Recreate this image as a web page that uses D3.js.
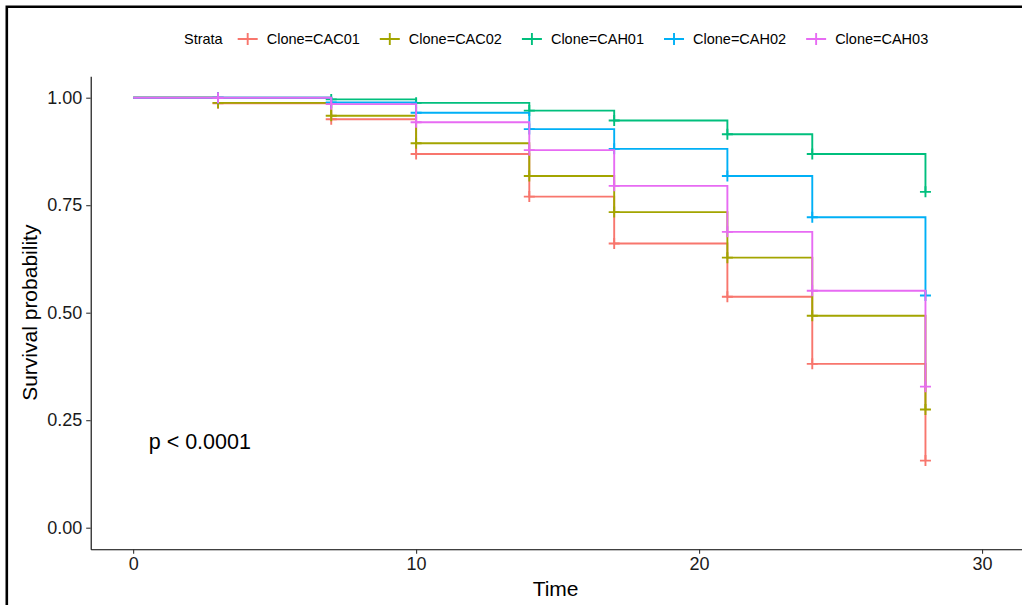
<!DOCTYPE html>
<html>
<head>
<meta charset="utf-8">
<script src="https://cdn.jsdelivr.net/npm/d3@7"></script>
<style>
  html, body { margin: 0; padding: 0; background: #fff; }
  svg { display: block; font-family: "Liberation Sans", Arial, sans-serif; }
</style>
</head>
<body>
<svg id="chart" width="1022" height="605"></svg>
<script>
// Kaplan-Meier survival estimates per clone, evaluated at each event time
const times = [0, 3, 7, 10, 14, 17, 21, 24, 28];
const strata = ["Clone=CAC01", "Clone=CAC02", "Clone=CAH01", "Clone=CAH02", "Clone=CAH03"];
const survCAC01 = [1, 0.987, 0.950, 0.869, 0.770, 0.661, 0.537, 0.381, 0.156];
const survCAC02 = [1, 0.988, 0.958, 0.894, 0.818, 0.734, 0.628, 0.493, 0.275];
const survCAH01 = [1, 1.000, 0.996, 0.988, 0.970, 0.947, 0.915, 0.869, 0.781];
const survCAH02 = [1, 1.000, 0.989, 0.965, 0.927, 0.881, 0.818, 0.722, 0.540];
const survCAH03 = [1, 1.000, 0.985, 0.943, 0.878, 0.795, 0.688, 0.551, 0.328];
const colors = ["#F8766D", "#A3A500", "#00BF7D", "#00B0F6", "#E76BF3"];
const xTicks = [0, 10, 20, 30];
const yTicks = [0, 0.25, 0.5, 0.75, 1];
const pLabel = "p < 0.0001";

(function draw() {
  const series = [survCAC01, survCAC02, survCAH01, survCAH02, survCAH03].map((vals, i) => ({
    name: strata[i],
    color: colors[i],
    points: times.map((t, j) => ({ t, s: vals[j] }))
  }));

  const svg = d3.select("#chart");
  const W = 1022, H = 605;

  // panel geometry
  const pLeft = 90.7, pRight = 1024.5, pTop = 76.2, pBottom = 549.2;
  const x = d3.scaleLinear().domain([-1.5, 31.5]).range([pLeft, pRight]);
  const y = d3.scaleLinear().domain([-0.05, 1.05]).range([pBottom, pTop]);

  // outer frame
  svg.append("path")
    .attr("d", `M6.8,${H} L6.8,6.8 L${W},6.8`)
    .attr("fill", "none").attr("stroke", "#000").attr("stroke-width", 2.6);

  // axes
  const xAxis = d3.axisBottom(x).tickValues(xTicks).tickFormat(d3.format("d")).tickSize(4.5).tickSizeOuter(0);
  const yAxis = d3.axisLeft(y).tickValues(yTicks).tickFormat(d3.format(".2f")).tickSize(4.5).tickSizeOuter(0);

  const gx = svg.append("g").attr("transform", `translate(0,${pBottom})`).call(xAxis);
  const gy = svg.append("g").attr("transform", `translate(${pLeft},0)`).call(yAxis);
  [gx, gy].forEach(g => {
    g.select(".domain").attr("stroke", "#000").attr("stroke-width", 1.1);
    g.selectAll(".tick line").attr("stroke", "#333").attr("stroke-width", 1.1);
    g.selectAll(".tick text").attr("fill", "#1a1a1a").style("font-size", "18px")
      .style("font-family", "'Liberation Sans', Arial, sans-serif");
  });
  gx.selectAll(".tick text").attr("dy", "0.71em").attr("y", 8);
  gy.selectAll(".tick text").attr("x", -8.5);

  // axis titles
  svg.append("text").attr("x", (pLeft + pRight) / 2 - 2).attr("y", 596)
    .attr("text-anchor", "middle").style("font-size", "21px").attr("fill", "#000").text("Time");
  svg.append("text").attr("transform", `translate(37,${(pTop + pBottom) / 2}) rotate(-90)`)
    .attr("text-anchor", "middle").style("font-size", "21px").attr("fill", "#000").text("Survival probability");

  // survival step curves
  const line = d3.line().x(d => x(d.t)).y(d => y(d.s)).curve(d3.curveStepAfter);
  const plot = svg.append("g");
  series.forEach(sr => {
    const g = plot.append("g");
    g.append("path").attr("d", line(sr.points))
      .attr("fill", "none").attr("stroke", sr.color).attr("stroke-width", 1.9);
    // censoring marks
    g.selectAll("path.mark").data(sr.points.slice(1)).join("path")
      .attr("class", "mark")
      .attr("d", d => `M${x(d.t) - 5.5},${y(d.s)} h11 M${x(d.t)},${y(d.s) - 5.5} v11`)
      .attr("stroke", sr.color).attr("stroke-width", 1.9).attr("fill", "none");
  });

  // p-value annotation
  svg.append("text").attr("x", x(0.55)).attr("y", y(0.2)).attr("dy", "0.35em")
    .style("font-size", "21.5px").attr("fill", "#000").text(pLabel);

  // legend
  const lg = svg.append("g");
  const legY = 39;
  let cx = 0;
  const title = lg.append("text").attr("x", cx).attr("y", legY).attr("dy", "0.35em")
    .style("font-size", "14.5px").attr("fill", "#000").text("Strata");
  cx += title.node().getComputedTextLength() + 15;
  series.forEach(sr => {
    lg.append("path")
      .attr("d", `M${cx},${legY} h20 M${cx + 10},${legY - 6} v12`)
      .attr("stroke", sr.color).attr("stroke-width", 1.9).attr("fill", "none");
    cx += 20 + 9;
    const t = lg.append("text").attr("x", cx).attr("y", legY).attr("dy", "0.35em")
      .style("font-size", "14.5px").attr("fill", "#000").text(sr.name);
    cx += t.node().getComputedTextLength() + 20;
  });
  lg.attr("transform", "translate(184,0)");
})();
</script>
</body>
</html>
